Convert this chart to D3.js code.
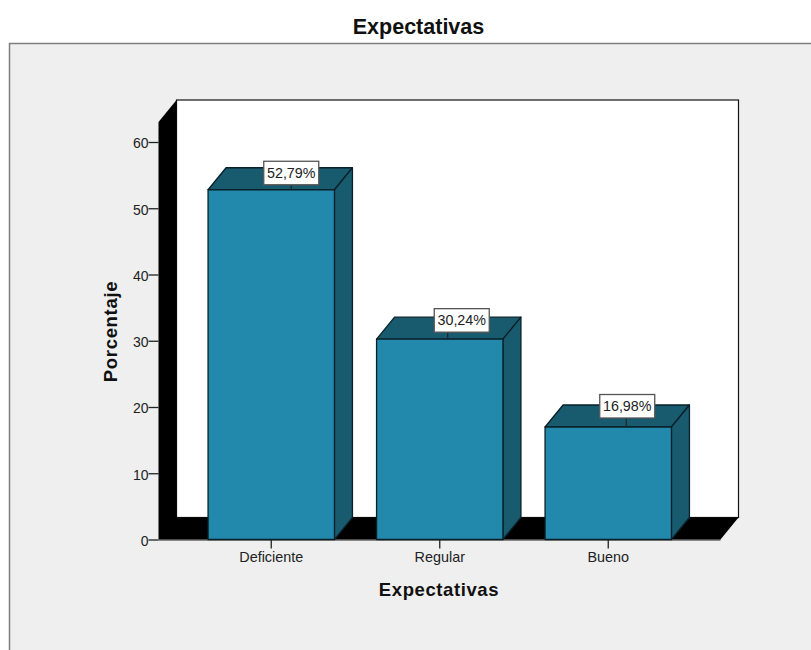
<!DOCTYPE html>
<html><head><meta charset="utf-8">
<script src="https://cdn.jsdelivr.net/npm/d3@7"></script>
<style>html,body{margin:0;padding:0;background:#fff}svg{display:block}text{font-family:"Liberation Sans",Arial,sans-serif}</style>
</head><body><svg id="c" width="811" height="650"></svg>
<script>
const categories = ["Deficiente","Regular","Bueno"];
const values = [52.79,30.24,16.98];
const valueLabels = ["52,79%","30,24%","16,98%"];
const yTicks = [0,10,20,30,40,50,60];
const chartTitle = "Expectativas";
const xTitle = "Expectativas";
const yTitle = "Porcentaje";

const svg = d3.select("#c");
const dx = 18, dy = -22;
const y = d3.scaleLinear().domain([0,60]).range([539.5,142]);
const x = d3.scaleBand().domain(categories).range([187,692.5]).paddingInner(0.25).paddingOuter(0.125);
const plotLeft = 158.5, plotRight = 720.5, plotTop = 122, base = y(0);
const pts = a => a.map(p=>p.join(",")).join(" ");

svg.append("rect").attr("x",9.5).attr("y",43.5).attr("width",830).attr("height",640)
  .attr("fill","#efefef").attr("stroke","#7f7f7f").attr("stroke-width",1.5);
svg.append("text").attr("x",418.5).attr("y",34).attr("text-anchor","middle")
  .attr("font-size",21.5).attr("font-weight","bold").attr("fill","#111").text(chartTitle);

// back wall, then side wall and floor as one black shape
svg.append("rect").attr("x",plotLeft+dx).attr("y",plotTop+dy).attr("width",plotRight-plotLeft).attr("height",base-plotTop)
  .attr("fill","#fff").attr("stroke","#111").attr("stroke-width",1.2);
svg.append("polygon").attr("points",pts([[plotLeft,plotTop],[plotLeft+dx,plotTop+dy],[plotLeft+dx,base+dy],[plotRight+dx,base+dy],[plotRight,base],[plotLeft,base]])).attr("fill","#000");

// axes
const yAxis = d3.axisLeft(y).tickValues(yTicks).tickSize(10).tickPadding(0);
const gy = svg.append("g").attr("transform",`translate(${plotLeft},0)`).call(yAxis);
gy.select(".domain").remove();
gy.selectAll("line").attr("stroke","#222").attr("stroke-width",1.3);
gy.selectAll("text").attr("font-size",14).attr("dy","0.42em").attr("fill","#222").style("font-family",'"Liberation Sans",Arial,sans-serif');

const xAxis = d3.axisBottom(x).tickSize(9).tickPadding(3);
const gx = svg.append("g").attr("transform",`translate(0,${base})`).call(xAxis);
gx.select(".domain").remove();
gx.selectAll("line").attr("stroke","#222").attr("stroke-width",1.3);
gx.selectAll("text").attr("font-size",14.4).attr("fill","#222").style("font-family",'"Liberation Sans",Arial,sans-serif');
svg.append("line").attr("x1",plotLeft).attr("x2",plotRight).attr("y1",base+.5).attr("y2",base+.5).attr("stroke","#222").attr("stroke-width",1.2);

svg.append("text").attr("x",439).attr("y",596).attr("text-anchor","middle")
  .attr("font-size",18.5).attr("font-weight","bold").attr("fill","#111").style("letter-spacing","0.6px").text(xTitle);
svg.append("text").attr("transform","translate(117,331.5) rotate(-90)").attr("text-anchor","middle")
  .attr("font-size",18.5).attr("font-weight","bold").attr("fill","#111").style("letter-spacing","0.7px").text(yTitle);

// bars
const leaderShift = [20,8,18], boxShift = [20,22,19], boxLift = [5,7,9];
const bars = svg.selectAll("g.bar").data(categories.map((c,i)=>({c,i,v:values[i],l:valueLabels[i]}))).join("g").attr("class","bar");
const sty = s => s.attr("stroke","#0a2029").attr("stroke-width",1.3).attr("stroke-linejoin","round");
bars.each(function(d){
  const g = d3.select(this), x0 = x(d.c), x1 = x0 + x.bandwidth(), t = y(d.v);
  g.append("polygon").attr("points",pts([[x0,t],[x0+dx,t+dy],[x1+dx,t+dy],[x1,t]])).attr("fill","#185a6e").call(sty);
  g.append("polygon").attr("points",pts([[x1,t],[x1+dx,t+dy],[x1+dx,base+dy],[x1,base]])).attr("fill","#185a6e").call(sty);
  g.append("rect").attr("x",x0).attr("y",t).attr("width",x1-x0).attr("height",base-t).attr("fill","#2389ac").call(sty);
  const cx = (x0+x1)/2, bc = cx + boxShift[d.i], bb = t - boxLift[d.i];
  g.append("line").attr("x1",cx+leaderShift[d.i]).attr("x2",cx+leaderShift[d.i]).attr("y1",t).attr("y2",bb).attr("stroke","#222").attr("stroke-width",1.1);
  g.append("rect").attr("x",bc-27.5).attr("y",bb-23.5).attr("width",55).attr("height",23.5)
    .attr("fill","#fff").attr("stroke","#555").attr("stroke-width",1.3);
  g.append("text").attr("x",bc).attr("y",bb-7).attr("text-anchor","middle")
    .attr("font-size",14.3).attr("fill","#222").text(d.l);
});
</script></body></html>
